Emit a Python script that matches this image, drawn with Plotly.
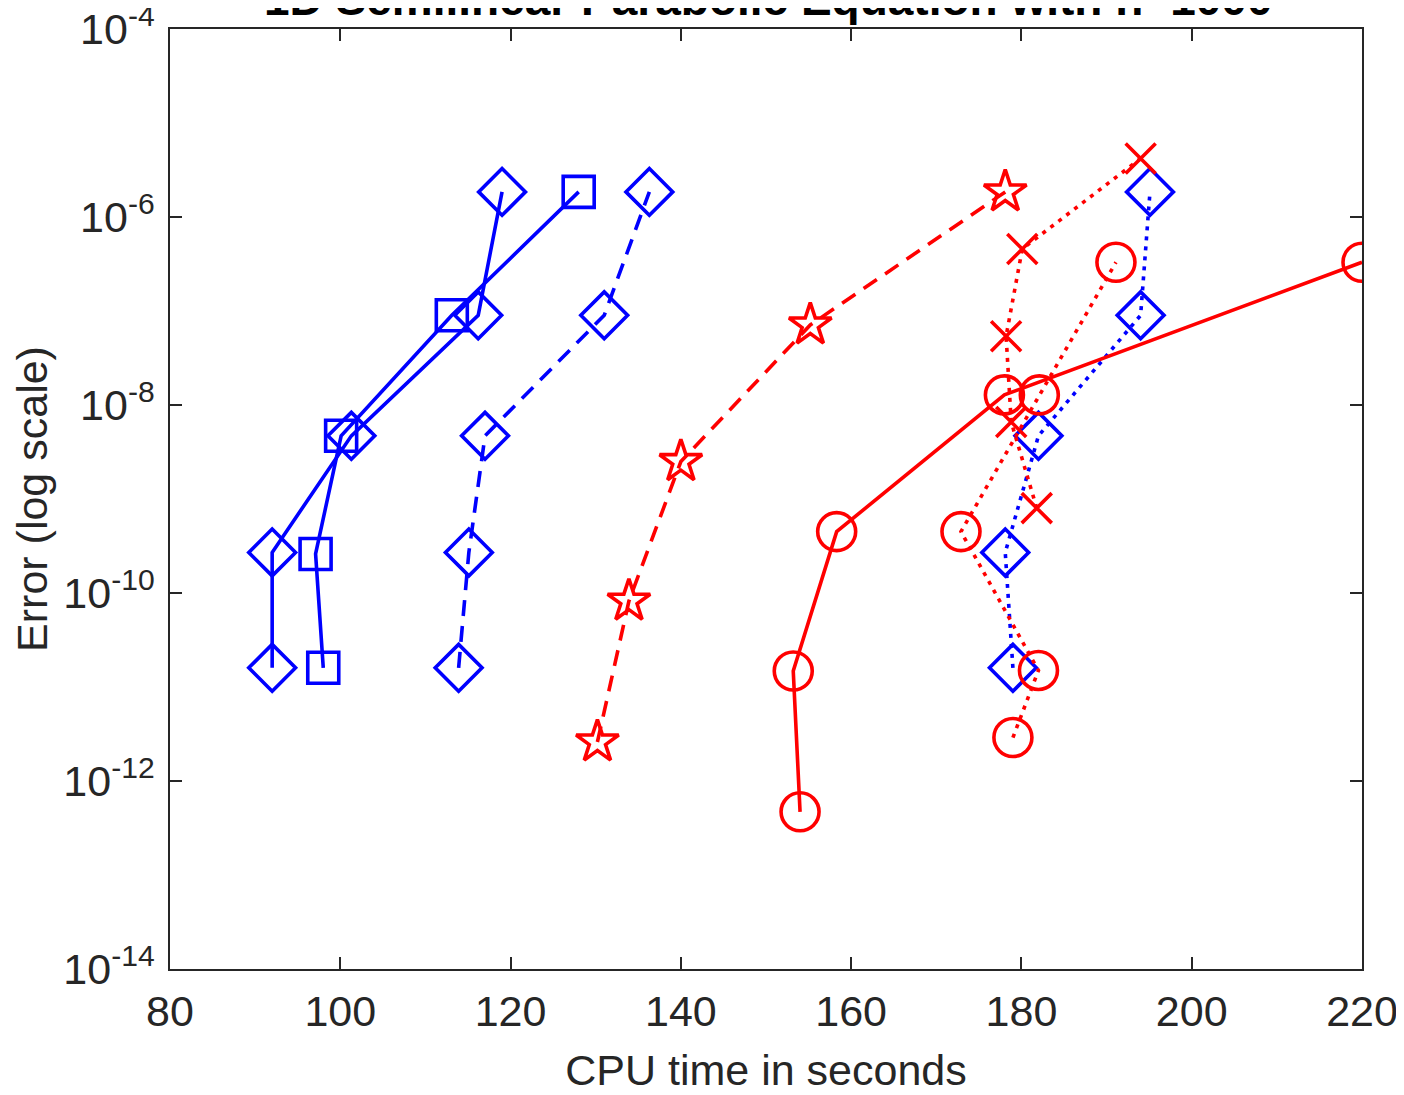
import plotly.graph_objects as go

# CPU time (s) and error for each method
t_blue_solid_dia = [92, 92, 101.3, 116.2, 119]
e_blue_solid_dia = [1.6e-11, 2.7e-10, 4.7e-9, 9e-8, 1.85e-6]

t_blue_square = [98, 97.1, 100.1, 113.1, 128]
e_blue_square = [1.6e-11, 2.6e-10, 4.7e-9, 9e-8, 1.85e-6]

t_blue_dash_dia = [113.9, 115.1, 117, 131, 136.3]
e_blue_dash_dia = [1.6e-11, 2.7e-10, 4.7e-9, 9e-8, 1.85e-6]

t_blue_dot_dia = [179, 178.1, 182, 194, 195.1]
e_blue_dot_dia = [1.6e-11, 2.7e-10, 4.7e-9, 9e-8, 1.85e-6]

t_red_star = [130.2, 133.9, 140, 155.2, 178.1]
e_red_star = [2.6e-12, 8.2e-11, 2.5e-9, 7.1e-8, 1.85e-6]

t_red_solid_circ = [154, 153.2, 158.3, 178, 220]
e_red_solid_circ = [4.7e-13, 1.48e-11, 4.5e-10, 1.28e-8, 3.3e-7]

t_red_dot_circ = [179, 182, 172.9, 182.1, 191.1]
e_red_dot_circ = [2.9e-12, 1.5e-11, 4.5e-10, 1.28e-8, 3.3e-7]

t_red_x = [181.8, 178.8, 178.2, 180.1, 194]
e_red_x = [8e-10, 6.6e-9, 5.4e-8, 4.57e-7, 4.2e-6]

BLUE = "#0000FF"
RED = "#FF0000"
FONT = "Liberation Sans, Arial, Helvetica, sans-serif"
DOT = "4px,6px"
DASH = "16px,10px"

series = [
    (t_blue_solid_dia, e_blue_solid_dia, BLUE, "solid", "diamond-open", 36),
    (t_blue_square, e_blue_square, BLUE, "solid", "square-open", 31),
    (t_blue_dash_dia, e_blue_dash_dia, BLUE, DASH, "diamond-open", 36),
    (t_blue_dot_dia, e_blue_dot_dia, BLUE, DOT, "diamond-open", 36),
    (t_red_star, e_red_star, RED, DASH, "star-open", 32),
    (t_red_solid_circ, e_red_solid_circ, RED, "solid", "circle-open", 38),
    (t_red_dot_circ, e_red_dot_circ, RED, DOT, "circle-open", 38),
    (t_red_x, e_red_x, RED, DOT, "x-thin-open", 30),
]

fig = go.Figure()
for x, y, c, dash, sym, sz in series:
    fig.add_trace(go.Scatter(
        x=x, y=y, mode="lines+markers",
        line=dict(color=c, width=3.6, dash=dash),
        marker=dict(symbol=sym, size=sz, color=c, line=dict(color=c, width=3.6)),
        showlegend=False,
    ))

ytick_vals = [1e-14, 1e-12, 1e-10, 1e-8, 1e-6, 1e-4]
ytick_text = ["10<sup>-14</sup>", "10<sup>-12</sup>", "10<sup>-10</sup>",
              "10<sup>-8</sup>", "10<sup>-6</sup>", "10<sup>-4</sup>"]
xtick_vals = [80, 100, 120, 140, 160, 180, 200, 220]

axis_common = dict(
    showline=True, linecolor="#262626", linewidth=1.5, mirror="ticks",
    ticks="inside", ticklen=12, tickwidth=1.5, tickcolor="#262626",
    showgrid=False, zeroline=False, ticklabeloverflow="allow",
    tickfont=dict(family=FONT, size=43, color="#262626"),
)

fig.update_xaxes(
    range=[80, 220], tickvals=xtick_vals,
    title=dict(text="CPU time in seconds", font=dict(family=FONT, size=43, color="#262626"), standoff=21),
    ticklabelstandoff=4,
    **axis_common,
)
fig.update_yaxes(
    type="log", range=[-14, -4], tickvals=ytick_vals, ticktext=ytick_text,
    title=dict(text="Error (log scale)", font=dict(family=FONT, size=43, color="#262626"), standoff=10),
    ticklabelstandoff=5,
    **axis_common,
)

fig.update_layout(
    width=1396, height=1087,
    margin=dict(l=162, r=42, t=21, b=126, autoexpand=False),
    paper_bgcolor="white", plot_bgcolor="white",
)

# title sits mostly above the top edge, as in the original
fig.add_annotation(
    text="<b>1D Semilinear Parabolic Equation with n=1000</b>",
    font=dict(family=FONT, size=46, color="#000000"),
    xref="paper", yref="paper", x=0.502, y=1.032,
    xanchor="center", yanchor="middle", showarrow=False,
)

fig.write_html("out.html")
